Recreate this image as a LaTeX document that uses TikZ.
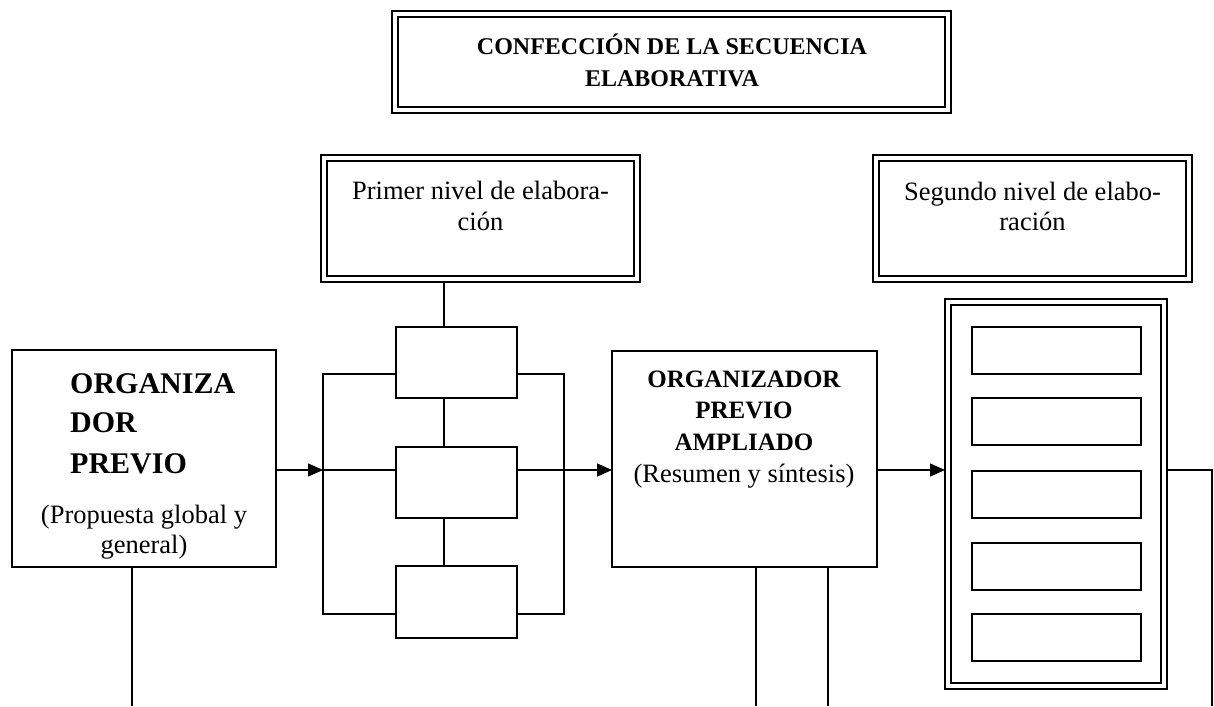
\documentclass[tikz,border=0pt]{standalone}
\usepackage{fontspec}
\setmainfont{Liberation Serif}
\usetikzlibrary{arrows.meta}
\begin{document}
\begin{tikzpicture}[x=1pt,y=-1pt,
  ln/.style={line width=1.3pt},
  arr/.style={line width=1.3pt,-{Triangle[length=15pt,width=13pt]}},
  plainbox/.style={draw,line width=1.3pt,inner sep=0pt,outer sep=0pt},
  dblbox/.style={draw,line width=1.2pt,double=white,double distance=4.8pt,inner sep=0pt,outer sep=3pt},
  txt/.style={anchor=base,inner sep=0pt},
  txtl/.style={anchor=base west,inner sep=0pt},
  reg/.style={font=\fontsize{26.5}{30}\selectfont},
  bldM/.style={font=\fontsize{25}{30}\selectfont\bfseries},
  bldL/.style={font=\fontsize{30}{36}\selectfont\bfseries},
  bldT/.style={font=\fontsize{24}{30}\selectfont\bfseries}
]
\useasboundingbox (0,0) rectangle (1214,706);

% title
\node[dblbox,minimum width=553pt,minimum height=96pt] (title) at (671.5,62) {};
\node[txt,bldT] (t1) at (672,55) {CONFECCIÓN DE LA SECUENCIA};
\node[txt,bldT] (t2) at (672,87) {ELABORATIVA};

% level boxes
\node[dblbox,minimum width=313pt,minimum height=121pt] (prim) at (480.5,218.5) {};
\node[txt,reg] (p1) at (480.5,199) {Primer nivel de elabora-};
\node[txt,reg] (p2) at (480.5,230) {ción};
\node[dblbox,minimum width=313pt,minimum height=121pt] (seg) at (1032.5,218.5) {};
\node[txt,reg] (g1) at (1032.5,200) {Segundo nivel de elabo-};
\node[txt,reg] (g2) at (1032.5,230) {ración};

% left organizer
\node[plainbox,minimum width=264pt,minimum height=217pt] (orgL) at (144,458.5) {};
\node[txtl,bldL] (l1) at (70,393) {ORGANIZA};
\node[txtl,bldL] (l2) at (70,432) {DOR};
\node[txtl,bldL] (l3) at (70,473) {PREVIO};
\node[txt,reg] (l4) at (144,523) {(Propuesta global y};
\begin{scope}
\clip (14,500) rectangle (274,558);
\node[txt,reg] (l5) at (144,553) {general)};
\end{scope}

% middle small boxes
\node[plainbox,minimum width=121pt,minimum height=71pt] (b1) at (456.5,362.5) {};
\node[plainbox,minimum width=121pt,minimum height=71pt] (b2) at (456.5,482.5) {};
\node[plainbox,minimum width=121pt,minimum height=72pt] (b3) at (456.5,602) {};

% second organizer
\node[plainbox,minimum width=265pt,minimum height=216pt] (org2) at (744.5,459) {};
\node[txt,bldM] (m1) at (744,387) {ORGANIZADOR};
\node[txt,bldM] (m2) at (744,418) {PREVIO};
\node[txt,bldM] (m3) at (744,450) {AMPLIADO};
\node[txt,reg] (m4) at (744,482) {(Resumen y síntesis)};

% stack
\node[dblbox,minimum width=216pt,minimum height=384pt] (stack) at (1056,494) {};
\node[plainbox,minimum width=169pt,minimum height=47pt] (s1) at (1056.5,350.5) {};
\node[plainbox,minimum width=169pt,minimum height=47pt] (s2) at (1056.5,421.5) {};
\node[plainbox,minimum width=169pt,minimum height=47pt] (s3) at (1056.5,494.5) {};
\node[plainbox,minimum width=169pt,minimum height=47pt] (s4) at (1056.5,566.5) {};
\node[plainbox,minimum width=169pt,minimum height=47pt] (s5) at (1056.5,637.5) {};

% coordinates
\coordinate (jL) at (323,470);
\coordinate (tL) at (323,374);
\coordinate (bL) at (323,614);
\coordinate (jR) at (564,470);
\coordinate (tR) at (564,374);
\coordinate (bR) at (564,614);
\coordinate (vx) at (444,0);
\coordinate (eL) at (132,706);
\coordinate (e1) at (756,706);
\coordinate (e2) at (828,706);
\coordinate (rc) at (1212,470);
\coordinate (re) at (1212,706);

% connectors
\draw[arr] (orgL.east |- jL) -- (jL);
\draw[ln] (jL) -- (b2.west |- jL);
\draw[ln] (b1.west |- tL) -- (tL) -- (bL) -- (b3.west |- bL);
\draw[ln] (b1.east |- tR) -- (tR) -- (bR) -- (b3.east |- bR);
\draw[ln] (b2.east |- jR) -- (jR);
\draw[arr] (jR) -- (org2.west |- jR);
\draw[ln] (prim.south -| vx) -- (b1.north -| vx);
\draw[ln] (b1.south -| vx) -- (b2.north -| vx);
\draw[ln] (b2.south -| vx) -- (b3.north -| vx);
\draw[ln] (orgL.south -| eL) -- (eL);
\draw[ln] (org2.south -| e1) -- (e1);
\draw[ln] (org2.south -| e2) -- (e2);
\draw[arr] (org2.east |- jR) -- (stack.west |- jR);
\draw[ln] (stack.east |- rc) -- (rc) -- (re);
\end{tikzpicture}
\end{document}
